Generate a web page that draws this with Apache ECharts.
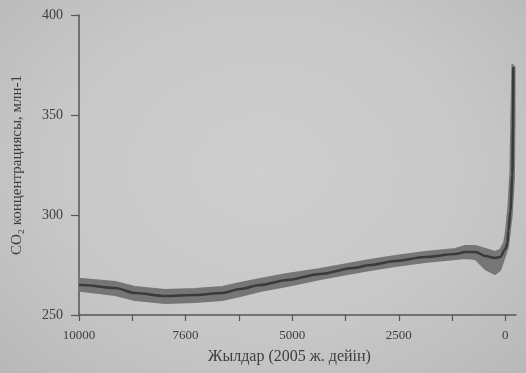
<!DOCTYPE html>
<html>
<head>
<meta charset="utf-8">
<script src="https://cdn.jsdelivr.net/npm/echarts@6/dist/echarts.min.js"></script>
<style>
  html, body { margin: 0; padding: 0; }
  body {
    width: 526px; height: 373px; overflow: hidden;
    background: radial-gradient(ellipse at 50% 45%, #cecece 0%, #c8c8c8 55%, #b8b8b8 100%);
  }
  #chart { width: 526px; height: 373px; }
</style>
</head>
<body>
<div id="chart"></div>
<script>
// Years before 2005 and CO2 concentration (ppm), central estimate
const years = [10000, 9930, 9150, 8690, 7980, 7280, 6640, 6220, 5750, 5120, 4340, 3570, 3170, 2580, 1880, 1170, 940, 700, 470, 240, 120, 0, -50, -70, -120, -165, -178, -188];
const co2   = [265, 265, 263.5, 261, 259.5, 260, 261, 263, 265, 267.5, 270.5, 273.5, 275, 277, 279, 280.5, 281.5, 281.5, 279.5, 278.5, 279, 283, 286, 292, 302, 320, 345, 374];

// Uncertainty envelope: upper/left edge and lower/right edge
const hiYears = [10000, 9930, 9150, 8690, 7980, 7280, 6640, 6220, 5750, 5120, 4340, 3570, 3170, 2580, 1880, 1170, 940, 700, 470, 240, 120, 30, -5, -30, -75, -120, -140, -165];
const hiCo2   = [268, 268, 266.5, 264, 262.5, 263, 264, 266, 268, 270.5, 273, 276, 277.5, 279.5, 281.5, 283, 284.5, 284.5, 283, 281.5, 282.5, 286, 290, 295, 305, 322, 347, 375];
const loYears = [10000, 9930, 9150, 8690, 7980, 7280, 6640, 6220, 5750, 5120, 4340, 3570, 3170, 2580, 1880, 1170, 940, 700, 470, 240, 120, 0, -60, -95, -150, -200, -215, -215];
const loCo2   = [262, 262, 260, 257.5, 256, 256.5, 257.5, 259.5, 262, 264.5, 268, 271, 272.5, 274.5, 276.5, 278, 278.5, 278, 273, 270.5, 272.5, 280, 284, 290, 300, 318, 345, 374];

// Axis ticks and labels
const tickYears = [0, 1250, 2500, 3750, 5000, 6250, 7500, 8750, 10000];
const labelYears = [0, 2500, 5000, 7500, 10000];
const labelTexts = ['0', '2500', '5000', '7600', '10000'];
const yTicks = [250, 300, 350, 400];

const serif = '"Liberation Serif", "DejaVu Serif", serif';
const ink = '#3e3e3e';
const bandColor = '#767676';

const chart = echarts.init(document.getElementById('chart'), null, { renderer: 'canvas' });

// Envelope drawn as one polygon: upper edge forward, lower edge back
function renderBand(params, api) {
  if (params.dataIndex !== 0) return null;
  const pts = [];
  for (let i = 0; i < hiYears.length; i++) pts.push(api.coord([hiYears[i], hiCo2[i]]));
  for (let i = loYears.length - 1; i >= 0; i--) pts.push(api.coord([loYears[i], loCo2[i]]));
  return {
    type: 'polygon',
    shape: { points: pts },
    style: { fill: bandColor, stroke: bandColor, lineWidth: 2, lineJoin: 'round' }
  };
}

chart.setOption({
  backgroundColor: 'transparent',
  animation: false,
  grid: { left: 79, right: 10, top: 15, bottom: 58 },
  xAxis: {
    type: 'value',
    inverse: true,
    min: -250,
    max: 10000,
    name: 'Жылдар (2005 ж. дейін)',
    nameLocation: 'middle',
    nameGap: 34,
    nameTextStyle: { fontFamily: serif, fontSize: 16, color: ink, padding: [0, 16, 0, 0] },
    axisLine: { show: true, onZero: false, lineStyle: { color: '#555', width: 1.5 } },
    axisTick: { show: true, length: 6, customValues: tickYears, lineStyle: { color: '#555', width: 1.2 } },
    axisLabel: {
      customValues: labelYears,
      margin: 14,
      fontFamily: serif, fontSize: 13, color: ink,
      formatter: v => labelTexts[labelYears.indexOf(v)] ?? ''
    },
    splitLine: { show: false }
  },
  yAxis: {
    type: 'value',
    position: 'left',
    min: 250,
    max: 400,
    interval: 50,
    name: 'CO₂ концентрациясы, млн-1',
    nameLocation: 'middle',
    nameGap: 54,
    nameRotate: 90,
    nameTextStyle: { fontFamily: serif, fontSize: 15, color: ink },
    axisLine: { show: true, onZero: false, lineStyle: { color: '#555', width: 1.5 } },
    axisTick: { show: true, length: 8, customValues: yTicks, lineStyle: { color: '#555', width: 1.2 } },
    axisLabel: { margin: 16, fontFamily: serif, fontSize: 14, color: ink },
    splitLine: { show: false }
  },
  series: [
    {
      name: 'band',
      type: 'custom',
      renderItem: renderBand,
      clip: false,
      data: hiYears.map((y, i) => [y, hiCo2[i]]),
      z: 1
    },
    {
      name: 'CO2',
      type: 'line',
      smooth: 0.3,
      smoothMonotone: 'x',
      symbol: 'none',
      lineStyle: { color: '#3a3a3a', width: 2.5 },
      data: years.map((y, i) => [y, co2[i]]),
      z: 2
    }
  ]
});
</script>
</body>
</html>
